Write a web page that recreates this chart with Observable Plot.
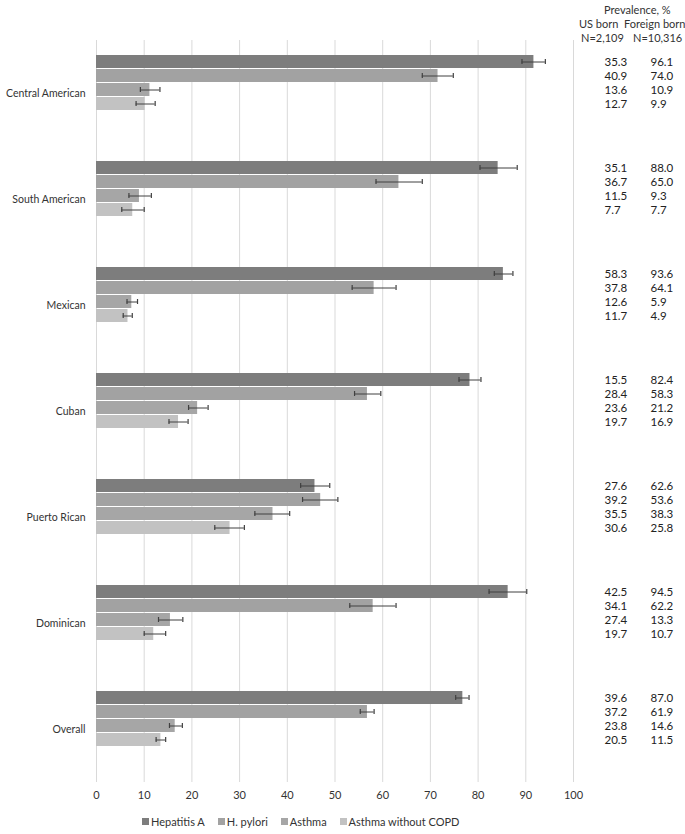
<!DOCTYPE html>
<html>
<head>
<meta charset="utf-8">
<script src="https://cdn.jsdelivr.net/npm/d3@7"></script>
<script src="https://cdn.jsdelivr.net/npm/@observablehq/plot@0.6"></script>
<style>
  body { margin: 0; background: #fff; font-family: Lato, "Open Sans", sans-serif; color: #333; }
  #wrap { position: relative; width: 685px; height: 834px; }
  .hdr { position: absolute; font-size: 11px; white-space: nowrap; color: #333; }
  #legend { position: absolute; left: 142px; top: 815px; display: flex; gap: 13px; font-size: 11px; color: #333; align-items: center; }
  #legend .item { display: flex; align-items: center; gap: 2px; }
  #legend .sw { width: 7px; height: 7px; display: inline-block; }
</style>
</head>
<body>
<div id="wrap">
  <div id="chart"></div>
  <div class="hdr" style="left:604px;top:3px;">Prevalence, %</div>
  <div class="hdr" style="left:579px;top:17px;">US born&nbsp;&nbsp;Foreign born</div>
  <div class="hdr" style="left:581px;top:31px;">N=2,109</div>
  <div class="hdr" style="left:633px;top:31px;">N=10,316</div>
  <div id="legend"></div>
</div>
<script>
const groups = ["Central American", "South American", "Mexican", "Cuban", "Puerto Rican", "Dominican", "Overall"];
const conditions = ["Hepatitis A", "H. pylori", "Asthma", "Asthma without COPD"];
const colors = ["#7d7d7d", "#a2a2a2", "#a6a6a6", "#c2c2c2"];
const xTicks = [0, 10, 20, 30, 40, 50, 60, 70, 80, 90, 100];

// overall prevalence (bar) with confidence bounds
const hepA     = [91.7, 84.2, 85.3, 78.3, 45.8, 86.3, 76.8];
const hepALo   = [89.2, 80.4, 83.4, 76.0, 42.8, 82.3, 75.3];
const hepAHi   = [94.1, 88.2, 87.3, 80.6, 48.9, 90.2, 78.1];
const hPylori  = [71.6, 63.4, 58.2, 56.8, 47.0, 58.0, 56.8];
const hPyloriLo= [68.3, 58.6, 53.6, 54.1, 43.2, 53.1, 55.3];
const hPyloriHi= [74.8, 68.3, 62.8, 59.6, 50.6, 62.8, 58.2];
const asthma   = [11.2, 9.0, 7.4, 21.2, 37.0, 15.5, 16.5];
const asthmaLo = [9.2, 6.8, 6.4, 19.3, 33.2, 13.0, 15.3];
const asthmaHi = [13.3, 11.5, 8.6, 23.4, 40.5, 18.1, 18.0];
const noCopd   = [10.2, 7.6, 6.6, 17.2, 28.0, 12.0, 13.5];
const noCopdLo = [8.3, 5.3, 5.6, 15.2, 24.8, 10.0, 12.5];
const noCopdHi = [12.3, 10.0, 7.5, 19.2, 31.0, 14.5, 14.5];

// prevalence table: US born / Foreign born
const usHepA   = [35.3, 35.1, 58.3, 15.5, 27.6, 42.5, 39.6];
const fbHepA   = [96.1, 88.0, 93.6, 82.4, 62.6, 94.5, 87.0];
const usHp     = [40.9, 36.7, 37.8, 28.4, 39.2, 34.1, 37.2];
const fbHp     = [74.0, 65.0, 64.1, 58.3, 53.6, 62.2, 61.9];
const usAsthma = [13.6, 11.5, 12.6, 23.6, 35.5, 27.4, 23.8];
const fbAsthma = [10.9, 9.3, 5.9, 21.2, 38.3, 13.3, 14.6];
const usNoCopd = [12.7, 7.7, 11.7, 19.7, 30.6, 19.7, 20.5];
const fbNoCopd = [9.9, 7.7, 4.9, 16.9, 25.8, 10.7, 11.5];

const series = [
  [hepA, hepALo, hepAHi, usHepA, fbHepA],
  [hPylori, hPyloriLo, hPyloriHi, usHp, fbHp],
  [asthma, asthmaLo, asthmaHi, usAsthma, fbAsthma],
  [noCopd, noCopdLo, noCopdHi, usNoCopd, fbNoCopd]
];
const rows = [];
groups.forEach((g, gi) => {
  conditions.forEach((c, ci) => {
    const s = series[ci];
    rows.push({group: g, cond: c, value: s[0][gi], lo: s[1][gi], hi: s[2][gi], us: s[3][gi], fb: s[4][gi]});
  });
});

const chart = Plot.plot({
  width: 685,
  height: 812,
  marginTop: 38,
  marginBottom: 29,
  marginLeft: 96,
  marginRight: 112,
  style: {fontFamily: "Lato, 'Open Sans', sans-serif", fontSize: "11px", color: "#333", background: "#fff"},
  x: {domain: [0, 100]},
  y: {domain: conditions, paddingInner: 0.05, paddingOuter: 1.6, align: 0.3, axis: null},
  fy: {domain: groups, padding: 0},
  color: {domain: conditions, range: colors},
  marks: [
    Plot.gridX(xTicks, {stroke: "#d9d9d9", strokeOpacity: 1, strokeWidth: 1}),
    Plot.barX(rows, {x: "value", y: "cond", fy: "group", fill: "cond"}),
    Plot.ruleY(rows, {x1: "lo", x2: "hi", y: "cond", fy: "group", stroke: "#404040", strokeWidth: 1}),
    Plot.tickX(rows, {x: "lo", y: "cond", fy: "group", stroke: "#404040", strokeWidth: 1.2, insetTop: 4, insetBottom: 4}),
    Plot.tickX(rows, {x: "hi", y: "cond", fy: "group", stroke: "#404040", strokeWidth: 1.2, insetTop: 4, insetBottom: 4}),
    Plot.text(rows, {y: "cond", fy: "group", text: d => d.us.toFixed(1), frameAnchor: "right", dx: 31, textAnchor: "start", fill: "#222", fontSize: 11.5}),
    Plot.text(rows, {y: "cond", fy: "group", text: d => d.fb.toFixed(1), frameAnchor: "right", dx: 77, textAnchor: "start", fill: "#222", fontSize: 11.5}),
    Plot.axisX(xTicks, {anchor: "bottom", tickSize: 0, tickPadding: 9, label: null, fill: "#333", fontSize: 11}),
    Plot.axisFy({anchor: "left", tickSize: 0, tickPadding: 11, label: null, fill: "#333", fontSize: 10.5})
  ]
});
document.getElementById("chart").appendChild(chart);

const legend = document.getElementById("legend");
conditions.forEach((c, i) => {
  const item = document.createElement("div");
  item.className = "item";
  const sw = document.createElement("span");
  sw.className = "sw";
  sw.style.background = colors[i];
  const t = document.createElement("span");
  t.textContent = c;
  item.appendChild(sw);
  item.appendChild(t);
  legend.appendChild(item);
});
</script>
</body>
</html>
